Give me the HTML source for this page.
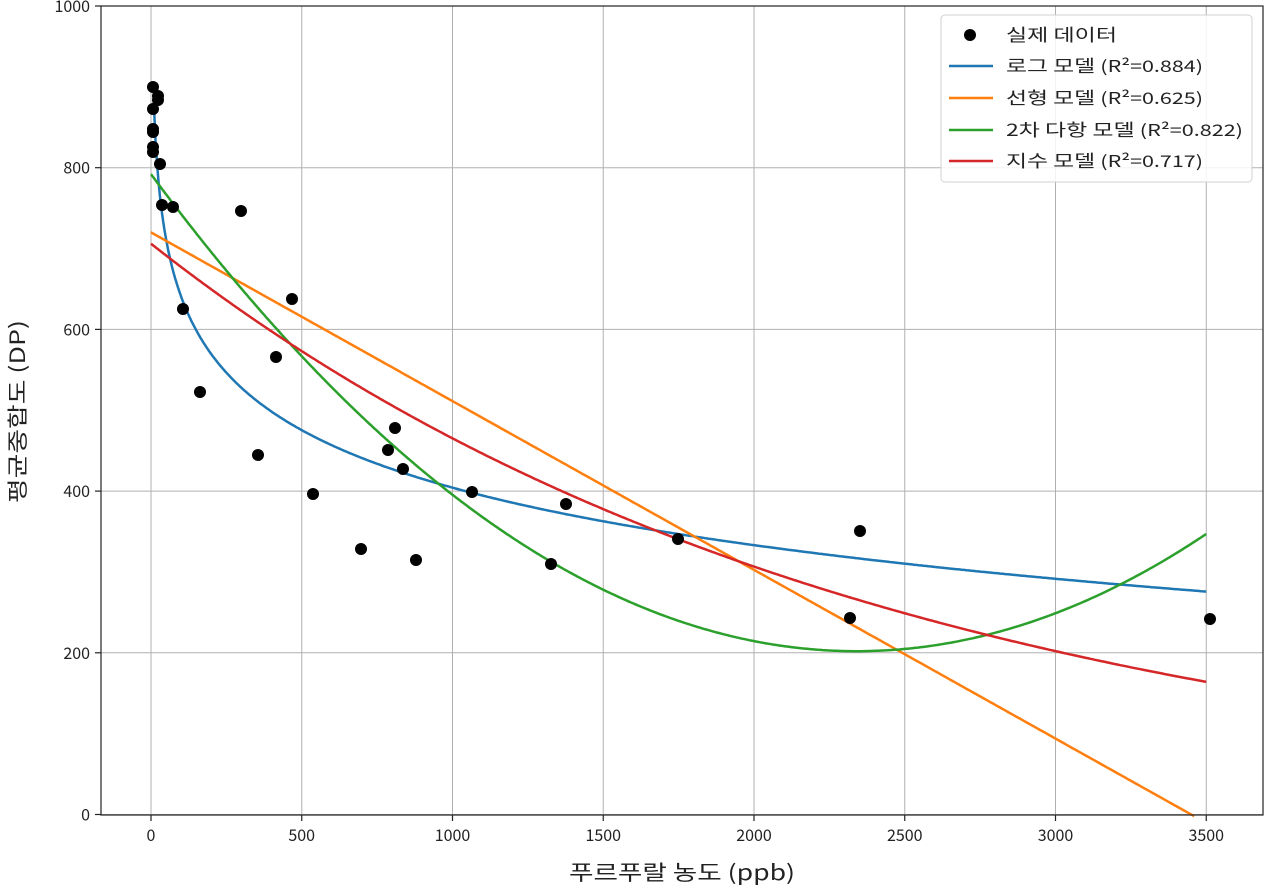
<!DOCTYPE html>
<html><head><meta charset="utf-8"><style>
body{margin:0;background:#fff}
svg text{font-family:"Noto Sans CJK KR","Liberation Sans",sans-serif;fill:#222}
</style></head><body>
<svg id="s" width="1266" height="886" xmlns="http://www.w3.org/2000/svg">
<g id="grid" stroke="#b0b0b0" stroke-width="1"></g>
<g id="curves" fill="none" stroke-width="2.5"></g>
<g id="pts" fill="#000"></g>
<rect x="101" y="6" width="1162" height="809" fill="none" stroke="#222" stroke-width="1.2"/>
<g id="ticks" stroke="#222" stroke-width="1.2"></g>
<g id="labels" font-size="16"></g>
<text x="569" y="880" font-size="21" textLength="226" lengthAdjust="spacingAndGlyphs">푸르푸랄 농도 (ppb)</text>
<text transform="translate(25,503) rotate(-90)" font-size="21" textLength="183" lengthAdjust="spacingAndGlyphs">평균중합도 (DP)</text>
<g>
<rect x="941" y="15" width="311" height="167" rx="4" fill="#fff" fill-opacity="0.85" stroke="#d0d0d0"/>
<circle cx="970" cy="35" r="6" fill="#000"/>
<line x1="949" y1="66" x2="993" y2="66" stroke="#1f77b4" stroke-width="2.5"/>
<line x1="949" y1="98" x2="993" y2="98" stroke="#ff7f0e" stroke-width="2.5"/>
<line x1="949" y1="130" x2="993" y2="130" stroke="#2ca02c" stroke-width="2.5"/>
<line x1="949" y1="161" x2="993" y2="161" stroke="#d62728" stroke-width="2.5"/>
<g font-size="17">
<text x="1006" y="41" textLength="111" lengthAdjust="spacingAndGlyphs">실제 데이터</text>
<text x="1006" y="72" textLength="197" lengthAdjust="spacingAndGlyphs">로그 모델 <tspan font-size="16">(R²=0.884)</tspan></text>
<text x="1006" y="104" textLength="197" lengthAdjust="spacingAndGlyphs">선형 모델 <tspan font-size="16">(R²=0.625)</tspan></text>
<text x="1006" y="136" textLength="237" lengthAdjust="spacingAndGlyphs">2차 다항 모델 <tspan font-size="16">(R²=0.822)</tspan></text>
<text x="1006" y="167" textLength="197" lengthAdjust="spacingAndGlyphs">지수 모델 <tspan font-size="16">(R²=0.717)</tspan></text>
</g></g>
</svg>
<script>
const NS="http://www.w3.org/2000/svg";
const X=v=>151+v*0.3015, Y=v=>814.5-v*0.8085;
function el(p,t,a,txt){const e=document.createElementNS(NS,t);for(const k in a)e.setAttribute(k,a[k]);if(txt!=null)e.textContent=txt;document.getElementById(p).appendChild(e);}
for(let v=0;v<=3500;v+=500){const x=X(v);el('grid','line',{x1:x,x2:x,y1:6,y2:815});el('ticks','line',{x1:x,x2:x,y1:815,y2:821});el('labels','text',{x:x,y:841,'text-anchor':'middle'},v);}
for(let v=0;v<=1000;v+=200){const y=Y(v);el('grid','line',{x1:101,x2:1263,y1:y,y2:y});el('ticks','line',{x1:95,x2:101,y1:y,y2:y});el('labels','text',{x:90,y:y+6,'text-anchor':'end'},v);}
function curve(f,c,x0,x1){let d='';for(let i=0;i<=600;i++){const x=x0+(x1-x0)*Math.pow(i/600,1.5);const y=f(x);d+=(i?'L':'M')+X(x).toFixed(1)+' '+Y(y).toFixed(1);}el('curves','path',{d:d,stroke:c});}
curve(x=>1113-102.6*Math.log(x),'#1f77b4',9,3500);
curve(x=>720-0.2087*x,'#ff7f0e',0,3460);
curve(x=>202+1.0775e-4*(x-2340)**2,'#2ca02c',0,3500);
curve(x=>706*Math.exp(-4.17e-4*x),'#d62728',0,3500);
const P=[[153,87],[153,109],[153,129],[153,132],[153,147],[153,152],[158,96],[158,100],[160,164],[162,205],[173,207],[183,309],[200,392],[241,211],[258,455],[276,357],[292,299],[313,494],[361,549],[388,450],[395,428],[403,469],[416,560],[472,492],[551,564],[566,504],[678,539],[850,618],[860,531],[1210,619]];
P.forEach(p=>el('pts','circle',{cx:p[0],cy:p[1],r:6}));
</script>
</body></html>
